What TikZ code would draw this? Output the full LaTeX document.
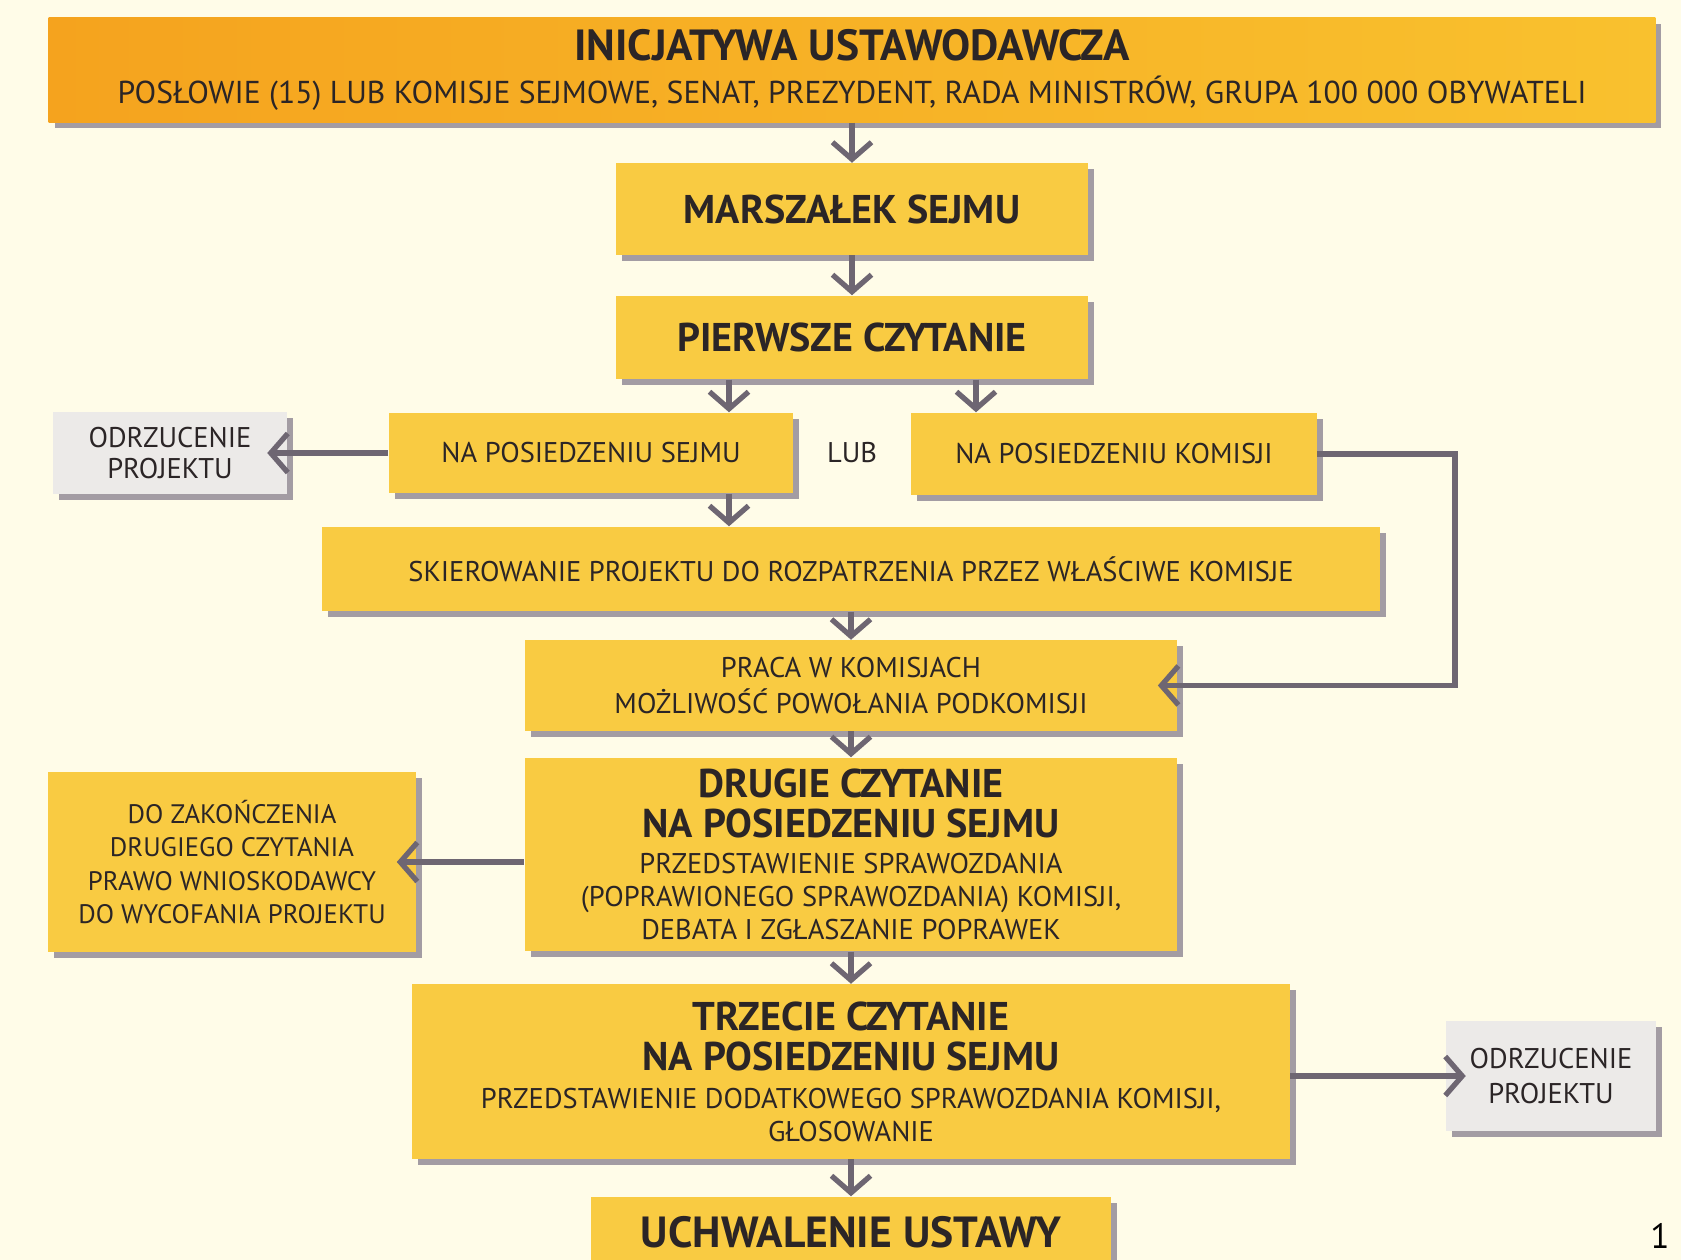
\documentclass[tikz,border=0pt]{standalone}
\usepackage{fontspec}
\setmainfont{PT Sans}
\usetikzlibrary{arrows.meta, positioning, shadows}
\definecolor{bgc}{HTML}{FFFCE8}
\definecolor{boxc}{HTML}{F9CB42}
\definecolor{greyc}{HTML}{ECEAE8}
\definecolor{arrc}{HTML}{6E6672}
\definecolor{inkc}{HTML}{2B2526}
\definecolor{orgL}{HTML}{F5A31E}
\definecolor{orgR}{HTML}{F9C12E}
\definecolor{shdc}{HTML}{8C8492}
\newcommand{\bgfont}{\fontsize{12.4}{13.6}\selectfont\bfseries}
\newcommand{\hdfont}{\fontsize{11.4}{12.6}\selectfont\bfseries}
\newcommand{\txfont}{\fontsize{8.1}{9.4}\selectfont}
\newcommand{\smfont}{\fontsize{7.6}{9.4}\selectfont}
\newcommand{\sbfont}{\fontsize{9.0}{9.4}\selectfont}
\tikzset{
  box/.style  ={fill=boxc, text=inkc, align=center, inner sep=0pt, font=\txfont,
                drop shadow={shadow xshift=0.06cm, shadow yshift=-0.06cm,
                             fill=shdc, opacity=0.8}},
  gbox/.style ={box, fill=greyc},
  head/.style ={box, font=\hdfont},
  wh/.style 2 args={minimum width=#1cm, minimum height=#2cm},
  arr/.style  ={draw=arrc, line width=1.5pt,
                -{Straight Barb[length=1.7mm, width=3.9mm]}},
  arrin/.style={arr, shorten >=-0.2cm},
  lbl/.style  ={text=inkc, font=\txfont, inner sep=1pt},
}
\begin{document}
\begin{tikzpicture}[x=0.01cm, y=-0.01cm]
  \fill[bgc] (0,0) rectangle (1681,1260);
  \useasboundingbox (0,0) rectangle (1681,1260);

  % main column
  \node[box, font=\sbfont, left color=orgL, right color=orgR, wh={16.06}{1.04}] (init) at (852,70)
       {\bgfont INICJATYWA USTAWODAWCZA\\[2.8pt]
        POSŁOWIE (15) LUB KOMISJE SEJMOWE, SENAT, PREZYDENT, RADA MINISTRÓW, GRUPA 100 000 OBYWATELI};
  \node[head, wh={4.72}{0.91}, below=0.40cm of init]  (marsz) {MARSZAŁEK SEJMU};
  \node[head, wh={4.72}{0.83}, below=0.40cm of marsz] (pierw) {PIERWSZE CZYTANIE};

  \node[box, wh={4.04}{0.80}] (naps) at (591,453) {NA POSIEDZENIU SEJMU};
  \node[box, wh={4.05}{0.82}] (napk) at (1114,454) {NA POSIEDZENIU KOMISJI};
  \node[lbl] (lub) at (naps -| pierw) {LUB};
  \node[gbox, wh={2.33}{0.82}] (odrz1) at (170,453) {ODRZUCENIE\\[-0.6pt]PROJEKTU};

  \node[box, wh={10.57}{0.84}] (skier) at (851,569)
       {SKIEROWANIE PROJEKTU DO ROZPATRZENIA PRZEZ WŁAŚCIWE KOMISJE};
  \node[box, wh={6.52}{0.90}, below=0.28cm of skier] (praca)
       {PRACA W KOMISJACH\\[0.6pt]MOŻLIWOŚĆ POWOŁANIA PODKOMISJI};
  \node[box, wh={6.52}{1.93}, below=0.26cm of praca] (drugie)
       {\hdfont DRUGIE CZYTANIE\\[2pt]\hdfont NA POSIEDZENIU SEJMU\\[0.8pt]
        PRZEDSTAWIENIE SPRAWOZDANIA\\(POPRAWIONEGO SPRAWOZDANIA) KOMISJI,\\
        DEBATA I ZGŁASZANIE POPRAWEK};
  \node[box, font=\smfont, wh={3.68}{1.80}] (dozak) at (232,862)
       {DO ZAKOŃCZENIA\\DRUGIEGO CZYTANIA\\PRAWO WNIOSKODAWCY\\DO WYCOFANIA PROJEKTU};
  \node[box, wh={8.77}{1.74}, below=0.32cm of drugie] (trzecie)
       {\hdfont TRZECIE CZYTANIE\\[2pt]\hdfont NA POSIEDZENIU SEJMU\\[1.4pt]
        PRZEDSTAWIENIE DODATKOWEGO SPRAWOZDANIA KOMISJI,\\GŁOSOWANIE};
  \node[gbox, wh={2.09}{1.09}] (odrz2) at (1551,1076) {ODRZUCENIE\\[0.3pt]PROJEKTU};
  \node[box, font=\bgfont, wh={5.20}{0.70}, below=0.37cm of trzecie] (uchw) {UCHWALENIE USTAWY};

  \node[text=black, font=\fontsize{10}{12}\selectfont, inner sep=0pt] (pnum) at (1660,1236) {1};

  % connectors
  \coordinate (lx) at (729,0);
  \coordinate (rx) at (976,0);
  \coordinate (loop) at (1455,0);
  \draw[arr] (init) -- (marsz);
  \draw[arr] (marsz) -- (pierw);
  \draw[arr] (pierw.south -| lx) -- (naps.north -| lx);
  \draw[arr] (pierw.south -| rx) -- (napk.north -| rx);
  \draw[arrin] (naps.west) -- (odrz1.east);
  \draw[arr] (naps.south -| lx) -- (skier.north -| lx);
  \draw[arr] (skier) -- (praca);
  \draw[arrin] (napk.east) -- (napk.east -| loop) |- (praca.east);
  \draw[arr] (praca) -- (drugie);
  \draw[arrin] (drugie.west |- dozak) -- (dozak.east);
  \draw[arr] (drugie) -- (trzecie);
  \draw[arrin] (trzecie.east |- odrz2) -- (odrz2.west);
  \draw[arr] (trzecie) -- (uchw);
\end{tikzpicture}
\end{document}
